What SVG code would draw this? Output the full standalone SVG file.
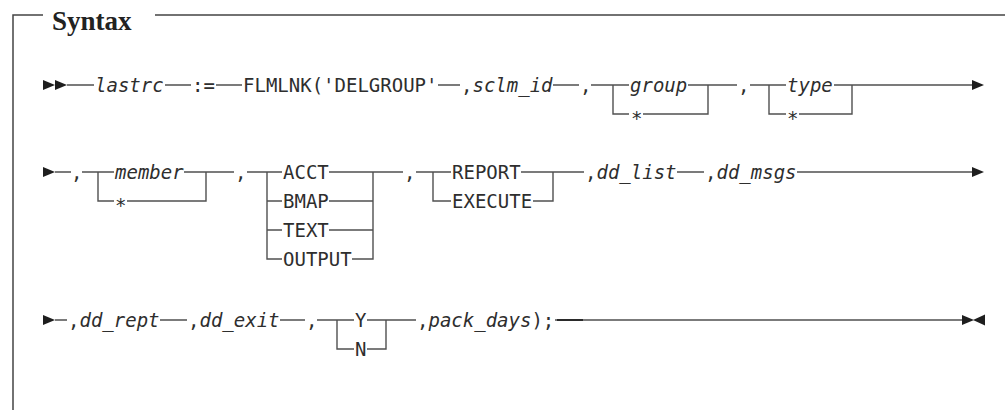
<svg xmlns="http://www.w3.org/2000/svg" width="1005" height="410" viewBox="0 0 1005 410">
<style>
.t{font-family:"DejaVu Sans Mono","Liberation Mono",monospace;font-size:19px;fill:#2e2e2e}
.i{font-style:italic}
.ttl{font-family:"Liberation Serif","DejaVu Serif",serif;font-weight:bold;font-size:27px;fill:#222}
.r{fill:none;stroke:#505050;stroke-width:1.4}
.fr{fill:none;stroke:#444;stroke-width:1.5}
.a{fill:#1e1e1e}
</style>
<defs>
<path id="tr" d="M0,-5 L12,0 L0,5 Z"/>
<path id="tl" d="M12,-5.5 L0,0 L12,5.5 Z"/>
</defs>
<rect width="1005" height="410" fill="#fff"/>
<g id="frame">
<path class="fr" d="M13,410 V15 H43 M155,15 H1005"/>
<text class="ttl" x="52" y="30">Syntax</text>
</g>
<g id="connectors">
<path class="r" d="M67,85 H94 M165,85 H191 M216,85 H242 M438,85 H460 M553,85 H579 M591,85 H629 M688,85 H737 M750,85 H786 M834,85 H972"/>
<path class="r" d="M613,85 V114 H629 M643,114 H708 V85"/>
<path class="r" d="M769,85 V114 H786 M799,114 H852 V85"/>
<path class="r" d="M55,172 H71 M82,172 H114 M184,172 H234 M247,172 H282 M329,172 H403 M416,172 H451 M521,172 H584 M677,172 H704 M797,172 H972"/>
<path class="r" d="M98,172 V201 H114 M127,201 H206 V172"/>
<path class="r" d="M267,172 V259 H282 M267,201 H282 M267,230 H282"/>
<path class="r" d="M329,201 H373 M329,230 H373 M352,259 H373 V172"/>
<path class="r" d="M433,172 V201 H451 M533,201 H553 V172"/>
<path class="r" d="M55,320 H67 M160,320 H187 M280,320 H305 M317,320 H354 M367,320 H416 M555,320 H962"/>
<path class="r" d="M337,320 V349 H354 M367,349 H386 V320"/>
<path d="M557,320 H583" stroke="#2a2a2a" stroke-width="2"/>
</g>
<g id="arrows">
<use href="#tr" class="a" x="43" y="85"/>
<use href="#tr" class="a" x="55" y="85"/>
<use href="#tr" class="a" x="972" y="85"/>
<use href="#tr" class="a" x="43" y="172"/>
<use href="#tr" class="a" x="972" y="172"/>
<use href="#tr" class="a" x="43" y="320"/>
<use href="#tr" class="a" x="962" y="320"/>
<use href="#tl" class="a" x="973" y="320"/>
</g>
<g id="n-lastrc"><text class="t i" x="95" y="91.5">lastrc</text></g>
<g id="n-assign"><text class="t" x="192" y="91.5">:=</text></g>
<g id="n-flmlnk"><text class="t" x="243" y="91.5">FLMLNK('DELGROUP'</text></g>
<g id="n-sclm"><text class="t" x="461" y="91.5">,<tspan class="i">sclm_id</tspan></text></g>
<g id="n-c1"><text class="t" x="580" y="91.5">,</text></g>
<g id="n-group"><text class="t i" x="630" y="91.5">group</text><text class="t" x="631" y="125">*</text></g>
<g id="n-c2"><text class="t" x="738" y="91.5">,</text></g>
<g id="n-type"><text class="t i" x="787" y="91.5">type</text><text class="t" x="787" y="125">*</text></g>
<g id="n-c3"><text class="t" x="71" y="178.5">,</text></g>
<g id="n-member"><text class="t i" x="115" y="178.5">member</text><text class="t" x="115" y="212">*</text></g>
<g id="n-c4"><text class="t" x="235" y="178.5">,</text></g>
<g id="n-report-type"><text class="t" x="283" y="178.5">ACCT</text><text class="t" x="283" y="207.5">BMAP</text><text class="t" x="283" y="236.5">TEXT</text><text class="t" x="283" y="265.5">OUTPUT</text></g>
<g id="n-c5"><text class="t" x="404" y="178.5">,</text></g>
<g id="n-action"><text class="t" x="452" y="178.5">REPORT</text><text class="t" x="452" y="207.5">EXECUTE</text></g>
<g id="n-ddlist"><text class="t" x="585" y="178.5">,<tspan class="i">dd_list</tspan></text></g>
<g id="n-ddmsgs"><text class="t" x="705" y="178.5">,<tspan class="i">dd_msgs</tspan></text></g>
<g id="n-ddrept"><text class="t" x="68" y="326.5">,<tspan class="i">dd_rept</tspan></text></g>
<g id="n-ddexit"><text class="t" x="188" y="326.5">,<tspan class="i">dd_exit</tspan></text></g>
<g id="n-c6"><text class="t" x="306" y="326.5">,</text></g>
<g id="n-yn"><text class="t" x="355" y="326.5">Y</text><text class="t" x="355" y="355.5">N</text></g>
<g id="n-pack"><text class="t" x="417" y="326.5">,<tspan class="i">pack_days</tspan>);</text></g>
</svg>
